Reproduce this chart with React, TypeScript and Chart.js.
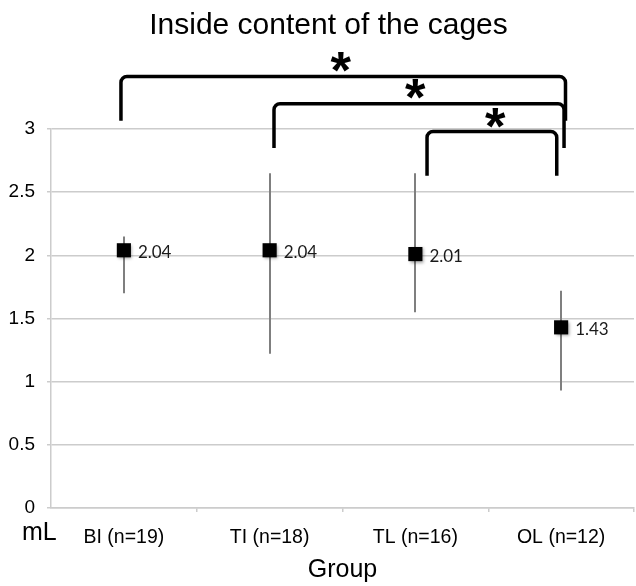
import React, { useEffect, useRef } from 'react';
import { Chart, registerables } from 'chart.js';

Chart.register(...registerables);

// ---- data ----
const titleText = 'Inside content of the cages';
const xTitle = 'Group';
const yUnit = 'mL';
const categories = ['BI (n=19)', 'TI (n=18)', 'TL (n=16)', 'OL (n=12)'];
const means = [2.04, 2.04, 2.01, 1.43];
const errHigh = [2.15, 2.65, 2.65, 1.72];
const errLow = [1.7, 1.22, 1.55, 0.93];
const yTicks = [0, 0.5, 1, 1.5, 2, 2.5, 3];

// significance brackets: ends as (fractional) category index, heights in mL
const bracketFrom = [-0.02, 1.03, 2.08];
const bracketTo = [3.03, 3.02, 2.97];
const bracketTop = [3.415, 3.2, 2.98];
const bracketBottom = [3.066, 2.85, 2.63];
const starText = ['*', '*', '*'];
const starX = [1.49, 2.0, 2.55];
const starY = [3.532, 3.316, 3.087];

const SANS = '"Liberation Sans", Arial, Helvetica, sans-serif';
const GRID = '#cccccc';
const CANVAS_W = 644;
const CANVAS_H = 586;

const annotPlugin = {
  id: 'annot',
  beforeDatasetsDraw(chart: any) {
    const { ctx, scales } = chart;
    const x = scales.x;
    const y = scales.y;
    ctx.save();
    ctx.strokeStyle = '#7f7f7f';
    ctx.lineWidth = 2;
    means.forEach((_, i) => {
      const px = Math.round(x.getPixelForValue(i));
      ctx.beginPath();
      ctx.moveTo(px, y.getPixelForValue(errHigh[i]));
      ctx.lineTo(px, y.getPixelForValue(errLow[i]));
      ctx.stroke();
    });
    ctx.restore();
  },
  beforeDatasetDraw(chart: any) {
    const ctx = chart.ctx;
    ctx.save();
    ctx.shadowColor = 'rgba(0,0,0,0.35)';
    ctx.shadowBlur = 3;
    ctx.shadowOffsetX = 1.5;
    ctx.shadowOffsetY = 1.5;
  },
  afterDatasetDraw(chart: any) {
    chart.ctx.restore();
  },
  afterDraw(chart: any) {
    const { ctx, scales, chartArea } = chart;
    const x = scales.x;
    const y = scales.y;
    ctx.save();

    // value labels
    const meta = chart.getDatasetMeta(0);
    ctx.fillStyle = '#1a1a1a';
    ctx.font = '17px Lato, "Open Sans", sans-serif';
    ctx.textAlign = 'left';
    ctx.textBaseline = 'middle';
    meta.data.forEach((el: any, i: number) => {
      ctx.fillText(means[i].toFixed(2), el.x + 14, el.y + 2);
    });

    // title
    ctx.fillStyle = '#000';
    ctx.font = `30px ${SANS}`;
    ctx.textAlign = 'center';
    ctx.textBaseline = 'alphabetic';
    ctx.fillText(titleText, 328.5, 33.5);

    // x axis title
    ctx.font = `25px ${SANS}`;
    ctx.fillText(xTitle, (chartArea.left + chartArea.right) / 2, 577);

    // y unit
    ctx.textAlign = 'left';
    ctx.font = `25px ${SANS}`;
    ctx.fillText(yUnit, 22, 540);

    // brackets
    ctx.strokeStyle = '#000';
    ctx.lineWidth = 3.5;
    ctx.lineJoin = 'round';
    const r = 6;
    bracketFrom.forEach((f, i) => {
      const x1 = x.getPixelForValue(f);
      const x2 = x.getPixelForValue(bracketTo[i]);
      const yt = y.getPixelForValue(bracketTop[i]);
      const yb = y.getPixelForValue(bracketBottom[i]);
      ctx.beginPath();
      ctx.moveTo(x1, yb);
      ctx.lineTo(x1, yt + r);
      ctx.arcTo(x1, yt, x1 + r, yt, r);
      ctx.lineTo(x2 - r, yt);
      ctx.arcTo(x2, yt, x2, yt + r, r);
      ctx.lineTo(x2, yb);
      ctx.stroke();
    });

    // asterisks
    ctx.fillStyle = '#000';
    ctx.textAlign = 'left';
    ctx.textBaseline = 'alphabetic';
    starText.forEach((s, i) => {
      const cx = x.getPixelForValue(starX[i]);
      const cy = y.getPixelForValue(starY[i]);
      ctx.font = `bold 100px ${SANS}`;
      let m = ctx.measureText(s);
      const gh = m.actualBoundingBoxAscent + m.actualBoundingBoxDescent;
      const size = (100 * 20) / gh;
      ctx.font = `bold ${size}px ${SANS}`;
      m = ctx.measureText(s);
      const bx = cx - (m.actualBoundingBoxRight - m.actualBoundingBoxLeft) / 2;
      const by = cy + (m.actualBoundingBoxAscent - m.actualBoundingBoxDescent) / 2;
      ctx.fillText(s, bx, by);
    });

    ctx.restore();
  },
};

export default function App() {
  const ref = useRef<HTMLCanvasElement>(null);

  useEffect(() => {
    const canvas = ref.current;
    if (!canvas) return;
    const chart = new Chart(canvas, {
      type: 'line',
      data: {
        labels: categories,
        datasets: [
          {
            data: means,
            showLine: false,
            pointStyle: 'rect',
            pointRadius: 10,
            pointHoverRadius: 10,
            pointBackgroundColor: '#000',
            pointBorderWidth: 0,
            clip: false,
          } as any,
        ],
      },
      options: {
        animation: false,
        responsive: false,
        devicePixelRatio: 1,
        layout: { padding: { top: 129, left: 0, right: 0, bottom: 0 } },
        plugins: {
          legend: { display: false },
          tooltip: { enabled: false },
          title: { display: false },
        },
        scales: {
          x: {
            type: 'category',
            offset: true,
            afterFit: (s: any) => {
              s.height = 78;
              s.paddingLeft = 0;
              s.paddingRight = 0;
            },
            grid: {
              offset: true,
              drawOnChartArea: false,
              drawTicks: true,
              tickLength: 4,
              lineWidth: 1.5,
              color: (c: any) => (c.index === 0 || c.index === categories.length ? 'rgba(0,0,0,0)' : GRID),
            },
            border: { display: true, color: GRID, width: 1.5 },
            ticks: {
              color: '#000',
              font: { family: SANS, size: 19.5 },
              padding: 14,
              maxRotation: 0,
              autoSkip: false,
            },
          },
          y: {
            type: 'linear',
            min: 0,
            max: 3,
            afterFit: (s: any) => {
              s.width = 51;
              s.paddingTop = 0;
              s.paddingBottom = 0;
            },
            afterBuildTicks: (s: any) => {
              s.ticks = yTicks.map((v) => ({ value: v }));
            },
            grid: {
              color: GRID,
              lineWidth: 1.5,
              drawTicks: true,
              tickLength: 4,
            },
            border: { display: true, color: GRID, width: 1.5 },
            ticks: {
              color: '#000',
              font: { family: SANS, size: 19 },
              padding: 12,
              callback: (v: any) => String(v),
            },
          },
        },
      },
      plugins: [annotPlugin],
    });
    return () => chart.destroy();
  }, []);

  return (
    <div
      style={{
        position: 'absolute',
        left: 0,
        top: 0,
        width: 636,
        height: 586,
        overflow: 'hidden',
        background: '#fff',
      }}
    >
      <div style={{ width: CANVAS_W, height: CANVAS_H }}>
        <canvas
          ref={ref}
          width={CANVAS_W}
          height={CANVAS_H}
          style={{ display: 'block', width: CANVAS_W, height: CANVAS_H }}
        />
      </div>
    </div>
  );
}
